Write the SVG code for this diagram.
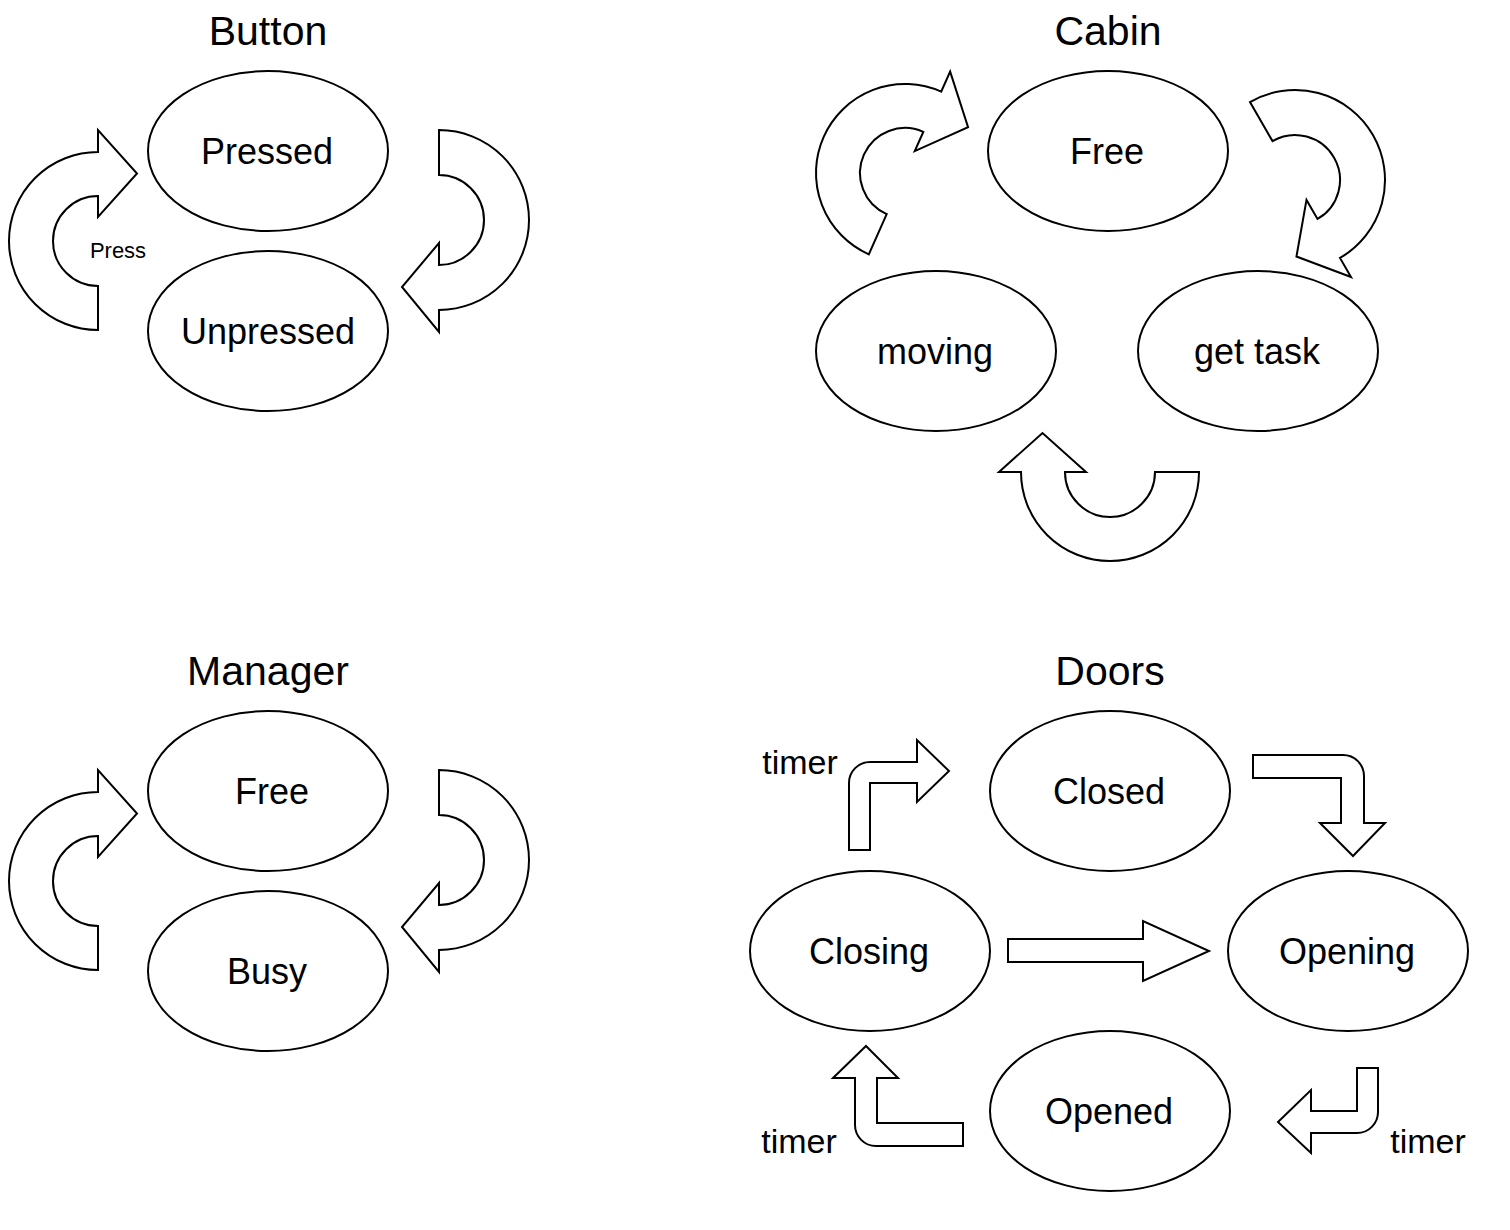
<svg xmlns="http://www.w3.org/2000/svg" xmlns:xlink="http://www.w3.org/1999/xlink" width="1510" height="1230" viewBox="0 0 1510 1230">
<style>
  .node ellipse { fill: #ffffff; stroke: #000000; stroke-width: 2; }
  .arrow { fill: #ffffff; stroke: #000000; stroke-width: 2; stroke-linejoin: miter; }
  text { font-family: "Liberation Sans", Arial, sans-serif; fill: #000000; text-anchor: middle; }
  .title { font-size: 41px; }
  .label { font-size: 36px; }
  .small { font-size: 22px; }
  .tlabel { font-size: 34px; }
</style>
<defs>
  <!-- curved arrow, arc on the left, head at top pointing right -->
  <path id="curveL" d="M0,89 A89,89 0 0 1 0,-89 L0,-111 L39,-67.5 L0,-24 L0,-45 A45,45 0 0 0 0,45 Z"/>
  <!-- curved arrow, arc on the right, head at bottom pointing left -->
  <path id="curveR" d="M0,-90 A90,90 0 0 1 0,90 L0,112 L-37,67 L0,23 L0,45 A45,45 0 0 0 0,-45 Z"/>
</defs>

<!-- Titles -->
<text class="title" x="268" y="45">Button</text>
<text class="title" x="1108" y="45">Cabin</text>
<text class="title" x="268" y="685">Manager</text>
<text class="title" x="1110" y="685">Doors</text>

<!-- Nodes -->
<g id="node-pressed" class="node"><ellipse cx="268" cy="151" rx="120" ry="80"/><text class="label" x="267" y="164">Pressed</text></g>
<g id="node-unpressed" class="node"><ellipse cx="268" cy="331" rx="120" ry="80"/><text class="label" x="268" y="344">Unpressed</text></g>

<g id="node-cabin-free" class="node"><ellipse cx="1108" cy="151" rx="120" ry="80"/><text class="label" x="1107" y="164">Free</text></g>
<g id="node-moving" class="node"><ellipse cx="936" cy="351" rx="120" ry="80"/><text class="label" x="935" y="364">moving</text></g>
<g id="node-gettask" class="node"><ellipse cx="1258" cy="351" rx="120" ry="80"/><text class="label" x="1257" y="364">get task</text></g>

<g id="node-manager-free" class="node"><ellipse cx="268" cy="791" rx="120" ry="80"/><text class="label" x="272" y="804">Free</text></g>
<g id="node-busy" class="node"><ellipse cx="268" cy="971" rx="120" ry="80"/><text class="label" x="267" y="984">Busy</text></g>

<g id="node-closed" class="node"><ellipse cx="1110" cy="791" rx="120" ry="80"/><text class="label" x="1109" y="804">Closed</text></g>
<g id="node-closing" class="node"><ellipse cx="870" cy="951" rx="120" ry="80"/><text class="label" x="869" y="964">Closing</text></g>
<g id="node-opening" class="node"><ellipse cx="1348" cy="951" rx="120" ry="80"/><text class="label" x="1347" y="964">Opening</text></g>
<g id="node-opened" class="node"><ellipse cx="1110" cy="1111" rx="120" ry="80"/><text class="label" x="1109" y="1124">Opened</text></g>

<!-- Connectors -->
<g id="connectors">
  <!-- Button -->
  <use xlink:href="#curveL" href="#curveL" class="arrow" transform="translate(98,241)"/>
  <use xlink:href="#curveR" href="#curveR" class="arrow" transform="translate(439,220)"/>
  <text class="small" x="118" y="258">Press</text>

  <!-- Cabin -->
  <use xlink:href="#curveL" href="#curveL" class="arrow" transform="translate(905,173) rotate(24)"/>
  <use xlink:href="#curveR" href="#curveR" class="arrow" transform="translate(1295,180) rotate(-30)"/>
  <use xlink:href="#curveL" href="#curveL" class="arrow" transform="translate(1110,472) rotate(-90)"/>

  <!-- Manager -->
  <use xlink:href="#curveL" href="#curveL" class="arrow" transform="translate(98,881)"/>
  <use xlink:href="#curveR" href="#curveR" class="arrow" transform="translate(439,860)"/>

  <!-- Doors -->
  <path class="arrow" d="M849,850 L849,783 A21,21 0 0 1 870,762 L917,762 L917,740 L949,771 L917,802 L917,783 L870,783 L870,850 Z"/>
  <path class="arrow" d="M1253,755 L1343,755 A21,21 0 0 1 1364,776 L1364,823 L1385,823 L1353,856 L1320,823 L1341,823 L1341,778 L1253,778 Z"/>
  <path class="arrow" d="M1008,939 L1143,939 L1143,921 L1209,951 L1143,981 L1143,962 L1008,962 Z"/>
  <path class="arrow" d="M866,1046 L898,1078 L877,1078 L877,1123 L963,1123 L963,1146 L876,1146 A21,21 0 0 1 855,1125 L855,1078 L833,1078 Z"/>
  <path class="arrow" d="M1357,1068 L1378,1068 L1378,1112 A21,21 0 0 1 1357,1133 L1311,1133 L1311,1153 L1278,1122 L1311,1090 L1311,1111 L1357,1111 Z"/>
  <text class="tlabel" x="800" y="774">timer</text>
  <text class="tlabel" x="799" y="1153">timer</text>
  <text class="tlabel" x="1428" y="1153">timer</text>
</g>
</svg>
